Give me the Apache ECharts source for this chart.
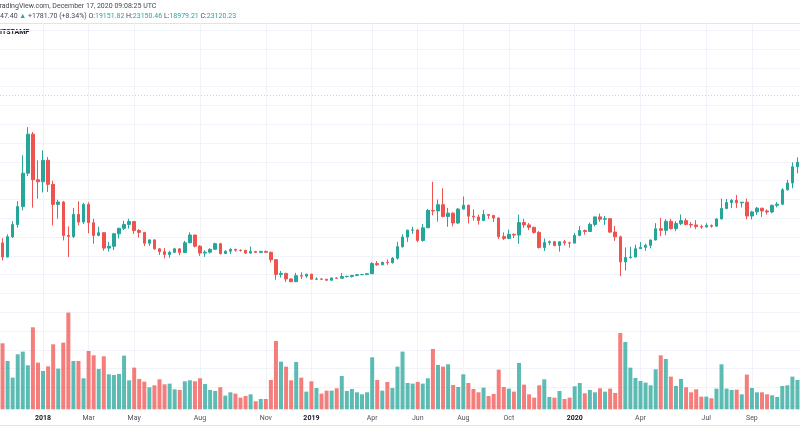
<!DOCTYPE html>
<html><head><meta charset="utf-8">
<script src="https://cdn.jsdelivr.net/npm/echarts@6/dist/echarts.min.js"></script>
<style>html,body{margin:0;padding:0;background:#fff}#c{width:800px;height:445px}</style>
</head><body><div id="c"></div><script>
const weeks = [
'2017-11-06','2017-11-13','2017-11-20','2017-11-27','2017-12-04','2017-12-11','2017-12-18','2017-12-25',
'2018-01-01','2018-01-08','2018-01-15','2018-01-22','2018-01-29','2018-02-05','2018-02-12','2018-02-19','2018-02-26',
'2018-03-05','2018-03-12','2018-03-19','2018-03-26','2018-04-02','2018-04-09','2018-04-16','2018-04-23','2018-04-30',
'2018-05-07','2018-05-14','2018-05-21','2018-05-28','2018-06-04','2018-06-11','2018-06-18','2018-06-25',
'2018-07-02','2018-07-09','2018-07-16','2018-07-23','2018-07-30','2018-08-06','2018-08-13','2018-08-20','2018-08-27',
'2018-09-03','2018-09-10','2018-09-17','2018-09-24','2018-10-01','2018-10-08','2018-10-15','2018-10-22','2018-10-29',
'2018-11-05','2018-11-12','2018-11-19','2018-11-26','2018-12-03','2018-12-10','2018-12-17','2018-12-24','2018-12-31',
'2019-01-07','2019-01-14','2019-01-21','2019-01-28','2019-02-04','2019-02-11','2019-02-18','2019-02-25',
'2019-03-04','2019-03-11','2019-03-18','2019-03-25','2019-04-01','2019-04-08','2019-04-15','2019-04-22','2019-04-29',
'2019-05-06','2019-05-13','2019-05-20','2019-05-27','2019-06-03','2019-06-10','2019-06-17','2019-06-24',
'2019-07-01','2019-07-08','2019-07-15','2019-07-22','2019-07-29','2019-08-05','2019-08-12','2019-08-19','2019-08-26',
'2019-09-02','2019-09-09','2019-09-16','2019-09-23','2019-09-30','2019-10-07','2019-10-14','2019-10-21','2019-10-28',
'2019-11-04','2019-11-11','2019-11-18','2019-11-25','2019-12-02','2019-12-09','2019-12-16','2019-12-23','2019-12-30',
'2020-01-06','2020-01-13','2020-01-20','2020-01-27','2020-02-03','2020-02-10','2020-02-17','2020-02-24',
'2020-03-02','2020-03-09','2020-03-16','2020-03-23','2020-03-30','2020-04-06','2020-04-13','2020-04-20','2020-04-27',
'2020-05-04','2020-05-11','2020-05-18','2020-05-25','2020-06-01','2020-06-08','2020-06-15','2020-06-22','2020-06-29',
'2020-07-06','2020-07-13','2020-07-20','2020-07-27','2020-08-03','2020-08-10','2020-08-17','2020-08-24','2020-08-31',
'2020-09-07','2020-09-14','2020-09-21','2020-09-28','2020-10-05','2020-10-12','2020-10-19','2020-10-26',
'2020-11-02','2020-11-09'];

const opens = [7380,5880,8040,9330,11250,14800,18950,14100,
13880,16170,13610,11480,11730,8180,8070,10420,9600,11480,9530,8180,8470,6830,7020,8350,8930,9350,
9650,8700,8500,7350,7700,6750,6450,6150,6380,6750,6350,7400,8220,7030,6300,6400,6700,
7300,6250,6500,6700,6610,6590,6300,6480,6380,6480,6380,5600,4030,4140,3550,3250,3900,3850,
4050,3520,3540,3520,3410,3650,3620,3800,3820,3920,4000,4020,4100,5180,5060,5320,5280,
5760,6980,8000,8740,8760,7640,8990,10830,10780,11450,10200,10550,9500,10980,11390,10230,10140,
9760,10400,10310,10030,8050,7860,8290,8220,9550,9300,9040,8500,6900,7420,7510,7110,7510,7390,
7360,8180,8700,8600,9350,10150,9900,9960,8530,8030,5360,5830,5880,6770,6910,7120,7690,
8890,8720,9680,8900,9450,9750,9350,9290,9120,9070,9240,9160,9930,11050,11680,11910,11650,11710,
10250,10680,11080,10780,10670,11380,11500,13030,13750,15480];
const closes = [5880,8040,9330,11250,14800,18950,14100,13880,
16170,13610,11480,11730,8180,8070,10420,9600,11480,9530,8180,8470,6830,7020,8350,8930,9350,9650,
8700,8500,7350,7700,6750,6450,6150,6380,6750,6350,7400,8220,7030,6300,6400,6700,7300,
6250,6500,6700,6610,6590,6300,6480,6380,6480,6380,5600,4030,4140,3550,3250,3900,3850,4050,
3520,3540,3520,3410,3650,3620,3800,3820,3920,4000,4020,4100,5180,5060,5320,5280,5760,
6980,8000,8740,8760,7640,8990,10830,10780,11450,10200,10550,9500,10980,11390,10230,10140,9760,
10400,10310,10030,8050,7860,8290,8220,9550,9300,9040,8500,6900,7420,7510,7110,7510,7390,7360,
8180,8700,8600,9350,10150,9900,9960,8530,8030,5360,5830,5880,6770,6910,7120,7690,8890,
8720,9680,8900,9450,9750,9350,9290,9120,9070,9240,9160,9930,11050,11680,11910,11650,11710,10250,
10680,11080,10780,10670,11380,11500,13030,13750,15480,15970];
const lows = [5520,5850,7900,9000,10850,14500,11130,12090,
12750,12800,9250,9960,7650,5870,7900,9250,9400,8400,7300,8100,6550,6450,6620,7850,8750,8900,
8350,7950,7050,7060,6650,6100,5750,5800,6320,6070,6340,7350,6900,6000,5900,6250,6680,
6150,6200,6200,6450,6450,6200,6250,6350,6280,6350,5300,3470,3700,3230,3220,3230,3550,3650,
3500,3470,3450,3350,3380,3570,3600,3700,3700,3840,3950,3930,4090,4950,5000,5050,5180,
5610,6870,7500,8350,7450,7520,8980,10310,9650,10100,9100,9150,9380,10950,9450,9750,9330,
9700,9950,9600,7800,7700,7770,7880,7300,8980,8740,8370,6780,6520,7140,7020,6450,7120,6880,
7350,8080,8260,8560,9150,9630,9300,8420,7600,3850,4450,5700,5860,6770,6550,6800,7660,
8100,8200,8800,8630,9270,9250,8980,8850,8880,9040,9000,9120,9900,10960,11100,11100,11150,9900,
9880,10350,10150,10400,10530,11170,11400,12950,13200,14800];
const highs = [7880,8300,9700,11800,16700,19700,19180,16170,
17230,16520,14000,11980,11850,9140,11100,11800,11650,11700,9950,9100,8500,7500,8450,9000,9750,9950,
9700,8850,8550,7750,7770,6850,6830,6550,6800,6800,7600,8500,8250,7150,6600,6800,7400,
7400,6600,6800,6750,6700,6650,7000,6520,6500,6550,6450,5620,4400,4200,3600,4200,4250,4100,
4100,3720,3640,3530,3700,3700,4180,3900,3930,4030,4090,4150,5340,5460,5380,5630,5880,
7500,8300,8800,9090,8800,9400,11000,13880,12000,13200,11100,10650,11100,12320,11450,10950,10400,
10900,10450,10350,10100,8500,8800,8400,10390,9950,9500,9100,8630,7850,7640,7600,7520,7700,7500,
8450,9180,8800,9550,10160,10500,10250,10000,9180,8150,6900,6970,7200,7470,7300,7730,9480,
10040,9900,9950,9700,10400,10000,9600,9800,9320,9480,9340,9990,12100,12050,12050,12480,11730,12100,
10800,11200,11100,10950,11450,11720,13200,14100,15950,16480];
// weekly volume, thousand BTC
const volumes = [198,145,95,165,173,132,246,140,
115,129,195,122,200,290,145,145,93,175,162,121,159,105,103,106,161,87,
125,91,83,66,72,90,75,77,60,58,84,87,84,93,76,58,55,
66,41,51,47,35,40,45,24,31,31,88,205,143,128,87,142,95,53,
84,64,47,56,56,63,100,55,61,51,45,51,156,88,56,82,64,
128,173,79,77,82,77,93,181,133,128,135,73,67,105,79,61,51,
65,40,46,119,67,62,53,139,74,45,35,72,90,37,35,55,31,35,
69,79,48,58,51,63,53,62,49,229,202,125,94,85,80,72,120,
162,151,98,70,91,66,51,60,38,38,33,62,135,62,58,59,45,104,
64,51,51,45,42,37,70,72,98,88];

const tickWeeks = ['2018-01-01','2018-03-05','2018-05-07','2018-08-06','2018-11-05','2019-01-07','2019-04-01',
'2019-06-03','2019-08-05','2019-10-07','2020-01-06','2020-04-06','2020-07-06','2020-09-07'];
const tickLabels = ['2018','Mar','May','Aug','Nov','2019','Apr','Jun','Aug','Oct','2020','Apr','Jul','Sep'];
const yearLabels = ['2018','2019','2020'];
const lastClose = 23120.23;

const UP = '#26a69a', DOWN = '#ef5350';
const tickMap = new Map(tickWeeks.map((w, k) => [w, tickLabels[k]]));
const isTick = (idx) => tickMap.has(weeks[idx]);
const candles = weeks.map((w, i) => [opens[i], closes[i], lows[i], highs[i]]);
const vols = volumes.map((v, i) => ({
  value: v,
  itemStyle: { color: closes[i] >= opens[i] ? 'rgba(38,166,154,0.75)' : 'rgba(239,83,80,0.75)' }
}));

const chart = echarts.init(document.getElementById('c'), null, { renderer: 'canvas' });
const FONT = 'Roboto, "Noto Sans", sans-serif';
chart.setOption({
  animation: false,
  backgroundColor: '#ffffff',
  grid: [
    { left: -0.1, width: 801.7, top: 30.3, height: 376 },
    { left: -0.1, width: 801.7, top: 23.3, height: 386 }
  ],
  xAxis: [
    { type: 'category', data: weeks, gridIndex: 0, show: false, boundaryGap: true },
    { type: 'category', data: weeks, gridIndex: 1, boundaryGap: true,
      axisLine: { show: false }, axisTick: { show: false },
      axisLabel: {
        interval: isTick, margin: 5.5, fontSize: 7, fontFamily: FONT,
        formatter: (v) => { const t = tickMap.get(v); return yearLabels.includes(t) ? '{y|' + t + '}' : '{m|' + t + '}'; },
        rich: {
          y: { fontWeight: 'bold', color: '#131722', fontSize: 7, fontFamily: FONT },
          m: { color: '#50535e', fontSize: 7, fontFamily: FONT }
        }
      },
      splitLine: { show: true, interval: isTick, alignWithLabel: true, lineStyle: { color: '#f0f3fa', width: 1 } }
    }
  ],
  yAxis: [
    { type: 'value', gridIndex: 0, min: -10000, max: 30000, interval: 2000,
      axisLine: { show: false }, axisTick: { show: false }, axisLabel: { show: false },
      splitLine: { show: true, lineStyle: { color: '#f0f3fa', width: 1 } } },
    { type: 'value', gridIndex: 1, min: 0, max: 1158, show: false, splitLine: { show: false } }
  ],
  series: [
    { type: 'bar', xAxisIndex: 1, yAxisIndex: 1, data: vols, barWidth: 4, z: 1 },
    { type: 'candlestick', xAxisIndex: 0, yAxisIndex: 0, data: candles, barWidth: 3, z: 3,
      itemStyle: { color: UP, color0: DOWN, borderColor: UP, borderColor0: DOWN, borderWidth: 1 },
      markLine: { silent: true, symbol: ['none', 'none'], label: { show: false },
        lineStyle: { type: [1, 2], color: UP, width: 1, opacity: 0.35 },
        data: [{ yAxis: lastClose }] } }
  ],
  graphic: [
    { type: 'line', shape: { x1: 0, y1: 23.5, x2: 800, y2: 23.5 }, style: { stroke: '#e0e3eb', lineWidth: 1 } },
    { type: 'line', shape: { x1: 0, y1: 425.5, x2: 800, y2: 425.5 }, style: { stroke: '#e0e3eb', lineWidth: 1 } },
    { type: 'text', x: -4.5, y: 6.5, style: { text: 'TradingView.com, December 17, 2020 09:08:25 UTC',
        fill: '#434651', font: '7px ' + FONT, verticalAlign: 'middle' } },
    { type: 'text', x: 0, y: 16, style: {
        text: '{d|47.40 }{u|▲}{d| +1781.70 (+8.34%) O:}{u|19151.82}{d| H:}{u|23150.46}{d| L:}{u|18979.21}{d| C:}{u|23120.23}',
        font: '7px ' + FONT, verticalAlign: 'middle',
        rich: { d: { fill: '#434651', font: '7px ' + FONT }, u: { fill: UP, font: '7px ' + FONT } } } },
    { type: 'text', x: 0, y: 32.5, style: { text: 'ITSTAMP', fill: '#131722', font: 'bold 7px ' + FONT, verticalAlign: 'middle' } }
  ]
});
</script></body></html>
